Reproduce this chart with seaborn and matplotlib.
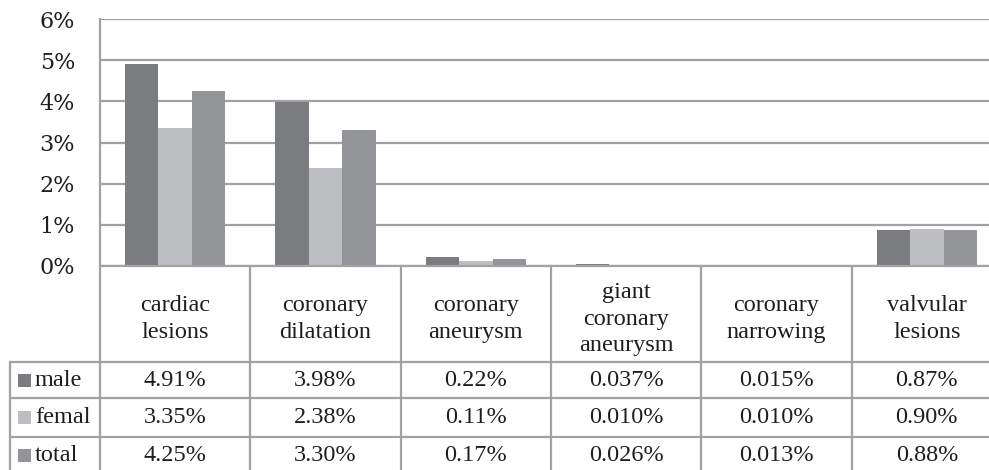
import matplotlib
matplotlib.use("Agg")
import matplotlib.pyplot as plt
import seaborn as sns
import pandas as pd
from matplotlib.patches import Rectangle

# Data
categories = ["cardiac\nlesions", "coronary\ndilatation", "coronary\naneurysm",
              "giant\ncoronary\naneurysm", "coronary\nnarrowing", "valvular\nlesions"]
groups = ["male", "femal", "total"]
male = [4.91, 3.98, 0.22, 0.037, 0.015, 0.87]
femal = [3.35, 2.38, 0.11, 0.010, 0.010, 0.90]
total = [4.25, 3.30, 0.17, 0.026, 0.013, 0.88]
cell_labels = {
    "male": ["4.91%", "3.98%", "0.22%", "0.037%", "0.015%", "0.87%"],
    "femal": ["3.35%", "2.38%", "0.11%", "0.010%", "0.010%", "0.90%"],
    "total": ["4.25%", "3.30%", "0.17%", "0.026%", "0.013%", "0.88%"],
}
yticks = [0, 1, 2, 3, 4, 5, 6]

colors = {"male": "#7b7c80", "femal": "#bdbec1", "total": "#939498"}
line_c = "#a2a2a4"
text_c = "#1e1e1e"

df = pd.DataFrame({
    "category": categories * 3,
    "group": ["male"] * 6 + ["femal"] * 6 + ["total"] * 6,
    "value": male + femal + total,
})

sns.set_style("white")
W, H = 989, 470
fig = plt.figure(figsize=(W / 100, H / 100), dpi=100)

# pixel geometry of the plotting region
x0, x1 = 100, 1002
y_top, y_zero = 19, 266
ax = fig.add_axes([x0 / W, (H - y_zero) / H, (x1 - x0) / W, (y_zero - y_top) / H])

sns.barplot(data=df, x="category", y="value", hue="group", hue_order=groups,
            palette=colors, width=0.667, gap=0, ax=ax, legend=False,
            linewidth=0, saturation=1, errorbar=None)

ax.set_ylim(0, 6)
ax.set_xlim(-0.5, 5.5)
ax.set_yticks(yticks)
ax.set_yticklabels([f"{t}%" for t in yticks], family="DejaVu Serif",
                   fontsize=16, color=text_c)
ax.tick_params(axis="y", length=0, pad=18)
ax.set_xticks([])
ax.set_xlabel("")
ax.set_ylabel("")
for s in ["top", "right", "bottom"]:
    ax.spines[s].set_visible(False)
ax.spines["left"].set_color(line_c)
ax.spines["left"].set_linewidth(1.6)
ax.yaxis.grid(True, color=line_c, linewidth=1.6)
ax.set_axisbelow(True)

# Data table below the chart, sharing the category positions
tab = fig.add_axes([x0 / W, 0, (x1 - x0) / W, (H - y_zero) / H])
tab.set_xlim(-0.5, 5.5)
tab.set_ylim(H, y_zero)
tab.axis("off")

row_edges = [266, 362, 398, 437, 474]
label_left = -0.5 + (10 - x0) / ((x1 - x0) / 6)
lw = 1.6
serif = "Liberation Serif"
fs = 17.5

# horizontal rules
tab.plot([-0.5, 5.5], [row_edges[0]] * 2, color=line_c, lw=lw, clip_on=False)
for yv in row_edges[1:4]:
    tab.plot([label_left, 5.5], [yv, yv], color=line_c, lw=lw, clip_on=False)
# vertical rules
for k in range(7):
    tab.plot([k - 0.5, k - 0.5], [row_edges[0], row_edges[-1]], color=line_c,
             lw=lw, clip_on=False)
tab.plot([label_left, label_left], [row_edges[1], row_edges[-1]], color=line_c,
         lw=lw, clip_on=False)

# header cells
for i, cat in enumerate(categories):
    tab.text(i, (row_edges[0] + row_edges[1]) / 2 + 5, cat, ha="center", va="center",
             family=serif, fontsize=fs, color=text_c, linespacing=1.36)

# value rows with legend keys
px = (x1 - x0) / 6
for r, g in enumerate(groups):
    yc = (row_edges[r + 1] + row_edges[r + 2]) / 2
    if r == 2:
        yc = 455
    tab.add_patch(Rectangle((label_left + 8 / px, yc - 6.5), 13 / px, 13,
                            color=colors[g], clip_on=False, lw=0))
    tab.text(label_left + 25 / px, yc, g, ha="left", va="center", family=serif,
             fontsize=fs, color=text_c, clip_on=False)
    for i, lab in enumerate(cell_labels[g]):
        tab.text(i, yc, lab, ha="center", va="center", family=serif,
                 fontsize=fs, color=text_c)

fig.savefig("out.png", dpi=100, facecolor="white")
